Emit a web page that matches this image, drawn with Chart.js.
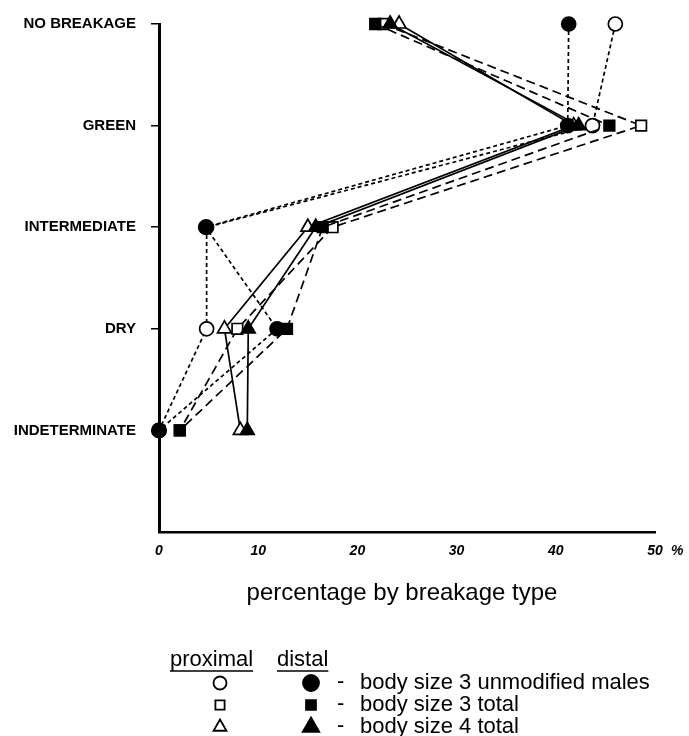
<!DOCTYPE html>
<html>
<head>
<meta charset="utf-8">
<script src="https://cdn.jsdelivr.net/npm/chart.js@4.4.0/dist/chart.umd.min.js"></script>
<style>
  html, body { margin: 0; padding: 0; background: #fff; }
  #wrap { width: 689px; height: 736px; }
</style>
</head>
<body>
<div id="wrap"><canvas id="graphBreakage" width="689" height="736"></canvas></div>
<script>
// breakage type categories, top to bottom
const categories = ['NO BREAKAGE', 'GREEN', 'INTERMEDIATE', 'DRY', 'INDETERMINATE'];
const xTickValues = [0, 10, 20, 30, 40, 50];
const axisTitle = 'percentage by breakage type';

// percentages (one value per category)
const males3Prox = [46.0, 43.7, 4.8, 4.8, 0];
const males3Dist = [41.3, 41.2, 4.7, 11.9, 0];
const total3Prox = [22.6, 48.6, 17.5, 7.9, 2.1];
const total3Dist = [21.8, 45.4, 16.5, 12.9, 2.1];
const total4Prox = [24.2, 41.8, 15.0, 6.6, 8.2];
const total4Dist = [23.3, 42.3, 15.8, 9.0, 8.9];

const legendLabels = ['body size 3 unmodified males', 'body size 3 total', 'body size 4 total'];

Chart.defaults.font.family = '"Liberation Sans", Arial, sans-serif';
Chart.defaults.color = '#000';

function pts(arr) {
    return arr.map((v, i) => ({ x: v, y: i }));
}

function serie(label, arr, style, filled, dash, radius) {
    return {
        label: label,
        data: pts(arr),
        showLine: true,
        borderColor: '#000',
        borderWidth: 1.7,
        borderDash: dash,
        pointStyle: style,
        pointRadius: radius,
        pointHoverRadius: radius,
        pointBorderWidth: 1.7,
        pointBorderColor: '#000',
        pointBackgroundColor: filled ? '#000' : '#fff',
        fill: false,
        tension: 0,
        clip: false
    };
}

const shortDash = [4, 3];
const longDash = [9, 5];

// legend symbols + text, axis title and the "%" sign are drawn here
const extras = {
    id: 'extras',
    afterDraw(chart) {
        const ctx = chart.ctx;
        const xs = chart.scales.x;
        const area = chart.chartArea;
        ctx.save();
        ctx.fillStyle = '#000';
        ctx.strokeStyle = '#000';
        ctx.textBaseline = 'middle';

        ctx.font = 'italic bold 14px "Liberation Sans", Arial';
        ctx.textAlign = 'left';
        ctx.fillText('%', xs.getPixelForValue(50) + 16, area.bottom + 19);

        ctx.font = '24px "Liberation Sans", Arial';
        ctx.textAlign = 'center';
        ctx.fillText(axisTitle, 402, 593);

        // legend header
        ctx.font = '22px "Liberation Sans", Arial';
        ctx.textAlign = 'left';
        const heads = [['proximal', 170], ['distal', 277]];
        ctx.lineWidth = 1.5;
        heads.forEach(h => {
            ctx.fillText(h[0], h[1], 660);
            const w = ctx.measureText(h[0]).width;
            ctx.beginPath();
            ctx.moveTo(h[1], 671);
            ctx.lineTo(h[1] + w, 671);
            ctx.stroke();
        });

        const rows = [
            ['circle', 6.5, 8],
            ['rect', 6.5, 7],
            ['triangle', 7.5, 9.5]
        ];
        const rowY = [683, 705, 727];
        rows.forEach((r, i) => {
            const y = rowY[i];
            ctx.lineWidth = 1.8;
            ctx.fillStyle = '#fff';
            Chart.helpers.drawPoint(ctx, { pointStyle: r[0], radius: r[1], rotation: 0, borderWidth: 1.8 }, 220, y);
            ctx.fillStyle = '#000';
            Chart.helpers.drawPoint(ctx, { pointStyle: r[0], radius: r[2], rotation: 0, borderWidth: 1 }, 311, y);
            ctx.font = '22px "Liberation Sans", Arial';
            ctx.fillText('-', 337, y - 1);
            ctx.fillText(legendLabels[i], 360, y);
        });
        ctx.restore();
    }
};

const ctx = document.getElementById('graphBreakage').getContext('2d');
window.graphBreakageChart = new Chart(ctx, {
    type: 'scatter',
    data: {
        datasets: [
            serie('distal - body size 3 unmodified males', males3Dist, 'circle', true, shortDash, 7),
            serie('distal - body size 3 total', total3Dist, 'rect', true, longDash, 7.5),
            serie('distal - body size 4 total', total4Dist, 'triangle', true, [], 8),
            serie('proximal - body size 3 unmodified males', males3Prox, 'circle', false, shortDash, 7),
            serie('proximal - body size 3 total', total3Prox, 'rect', false, longDash, 7.5),
            serie('proximal - body size 4 total', total4Prox, 'triangle', false, [], 8)
        ]
    },
    options: {
        responsive: false,
        animation: false,
        layout: { padding: { top: 15, right: 34, left: 0, bottom: 0 } },
        plugins: {
            legend: { display: false },
            tooltip: { enabled: false }
        },
        scales: {
            x: {
                type: 'linear',
                min: 0,
                max: 50,
                afterBuildTicks: s => { s.ticks = xTickValues.map(v => ({ value: v })); },
                afterFit: s => { s.height = 736 - 532; },
                grid: { drawOnChartArea: false, drawTicks: false },
                border: { color: '#000', width: 2.5 },
                ticks: {
                    padding: 11,
                    maxRotation: 0,
                    font: { size: 14, style: 'italic', weight: 'bold' }
                }
            },
            y: {
                type: 'linear',
                reverse: true,
                min: 0,
                max: 5,
                afterBuildTicks: s => { s.ticks = [0, 1, 2, 3, 4, 5].map(v => ({ value: v })); },
                afterFit: s => { s.width = 159; },
                grid: {
                    drawOnChartArea: false,
                    tickLength: 8,
                    lineWidth: 1.5,
                    color: c => (c.tick && c.tick.value === 5) ? 'rgba(0,0,0,0)' : '#000'
                },
                border: { color: '#000', width: 3 },
                ticks: {
                    padding: 15,
                    font: { size: 15, weight: 'bold' },
                    callback: v => categories[v] || ''
                }
            }
        }
    },
    plugins: [extras]
});
</script>
</body>
</html>
